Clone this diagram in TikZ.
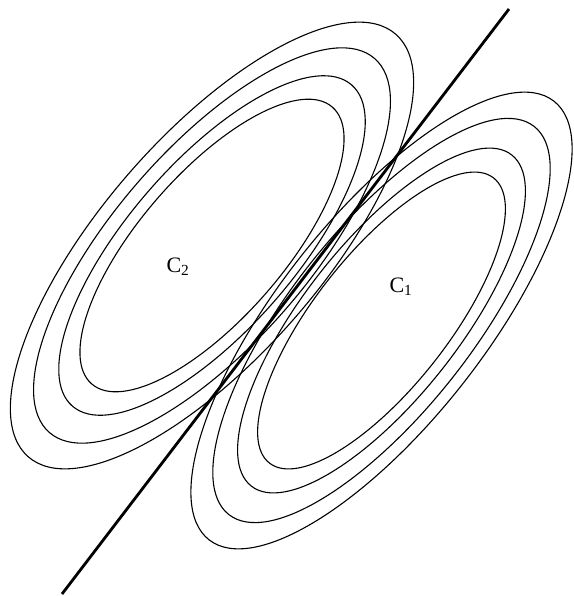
\documentclass[tikz,border=0pt]{standalone}
\usepackage{fontspec}
\setmainfont{Liberation Serif}
\begin{document}
\begin{tikzpicture}[x=1pt,y=-1pt,
  contour/.style={draw=black, line width=1.1pt},
  boundary/.style={draw=black, line width=2.8pt},
  lbl/.style={font=\fontsize{22}{24}\selectfont, inner sep=0pt}]
\useasboundingbox (0,0) rectangle (573,596);
% class C2 contours
\foreach \s in {1,0.885,0.76,0.655}{
  \draw[contour, shift={(212,245.5)}, rotate=49] (0,0) ellipse [x radius=280*\s pt, y radius=110*\s pt];
}
% class C1 contours
\foreach \s in {1,0.885,0.755,0.65}{
  \draw[contour, shift={(381.5,320.5)}, rotate=51.8] (0,0) ellipse [x radius=279*\s pt, y radius=103*\s pt];
}
\coordinate (lA) at (62,594);
\coordinate (lB) at (509,9);
\draw[boundary] (lA) -- (lB);
\node[lbl] (c2) at (178,267) {C\textsubscript{2}};
\node[lbl] (c1) at (401,287) {C\textsubscript{1}};
\end{tikzpicture}
\end{document}
